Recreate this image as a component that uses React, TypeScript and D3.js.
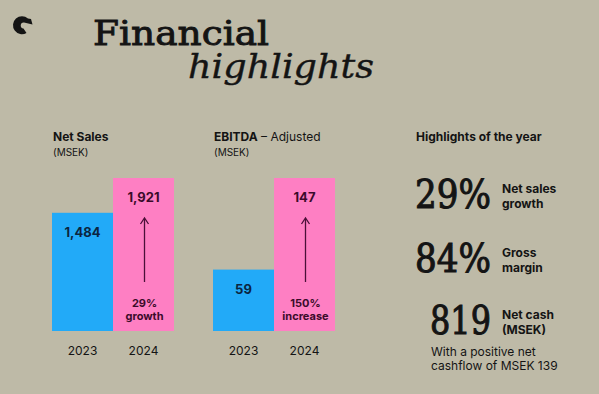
import React, { useEffect, useRef } from "react";
import * as d3 from "d3";

// data
const years = ["2023", "2024"];
const netSales = [1484, 1921];
const ebitda = [59, 147];
const netSalesLabels = ["1,484", "1,921"];
const ebitdaLabels = ["59", "147"];
const netSalesNote = ["29%", "growth"];
const ebitdaNote = ["150%", "increase"];
const highlights = [
  { value: "29%", lines: ["Net sales", "growth"] },
  { value: "84%", lines: ["Gross", "margin"] },
  { value: "819", lines: ["Net cash", "(MSEK)"] },
];
const footnote = ["With a positive net", "cashflow of MSEK 139"];

const BG = "#bebaa7";
const BLUE = "#22aaf8";
const PINK = "#fe7fc3";
const INK = "#141414";
const SANS = "Inter, 'Noto Sans', sans-serif";
const SERIF = "'DejaVu Serif', serif";

const App = () => {
  const svgRef = useRef<SVGSVGElement>(null);

  useEffect(() => {
    const svg = d3.select(svgRef.current);
    svg.selectAll("*").remove();

    const width = 599;
    const height = 394;
    svg.append("rect").attr("width", width).attr("height", height).attr("fill", BG);

    // logo
    svg
      .append("path")
      .attr(
        "d",
        "M28,18.5 A9,9 0 1 0 26.5,33 L23.5,28.5 A3,3 0 1 1 24,22.5 L32.5,24.5 L31,19 Z"
      )
      .attr("fill", INK);

    // title
    svg
      .append("text")
      .attr("x", 93)
      .attr("y", 45)
      .attr("font-family", SERIF)
      .attr("font-size", 34)
      .attr("textLength", 176)
      .attr("lengthAdjust", "spacingAndGlyphs")
      .attr("fill", INK)
      .attr("stroke", INK)
      .attr("stroke-width", 0.9)
      .text("Financial");
    svg
      .append("text")
      .attr("x", 188)
      .attr("y", 78)
      .attr("font-family", SERIF)
      .attr("font-style", "italic")
      .attr("font-size", 34)
      .attr("textLength", 186)
      .attr("lengthAdjust", "spacingAndGlyphs")
      .attr("fill", INK)
      .attr("stroke", INK)
      .attr("stroke-width", 0.4)
      .text("highlights");

    const baseY = 331;
    const topY = 178;

    const drawPanel = (
      x0: number,
      values: number[],
      labels: string[],
      note: string[],
      titleBold: string,
      titleRest: string
    ) => {
      const g = svg.append("g");
      const x = d3.scaleBand().domain(years).range([x0, x0 + 122]).padding(0);
      const y = d3.scaleLinear().domain([0, d3.max(values)!]).range([baseY, topY]);

      const t = g
        .append("text")
        .attr("x", x0 + 1)
        .attr("y", 141)
        .attr("font-family", SANS)
        .attr("font-size", 12)
        .attr("fill", INK);
      t.append("tspan").attr("font-weight", "bold").text(titleBold);
      if (titleRest) t.append("tspan").text(titleRest);
      g.append("text")
        .attr("x", x0 + 1)
        .attr("y", 156)
        .attr("font-family", SANS)
        .attr("font-size", 10)
        .attr("fill", INK)
        .text("(MSEK)");

      g.selectAll("rect.bar")
        .data(values)
        .join("rect")
        .attr("class", "bar")
        .attr("x", (d, i) => x(years[i])!)
        .attr("y", (d) => y(d))
        .attr("width", x.bandwidth())
        .attr("height", (d) => baseY - y(d))
        .attr("fill", (d, i) => (i === 0 ? BLUE : PINK));

      g.selectAll("text.val")
        .data(values)
        .join("text")
        .attr("class", "val")
        .attr("x", (d, i) => x(years[i])! + x.bandwidth() / 2)
        .attr("y", (d) => y(d) + 24)
        .attr("text-anchor", "middle")
        .attr("font-family", SANS)
        .attr("font-weight", "bold")
        .attr("font-size", 13)
        .attr("fill", (d, i) => (i === 0 ? "#0b2540" : "#3a0b2a"))
        .text((d, i) => labels[i]);

      g.selectAll("text.year")
        .data(years)
        .join("text")
        .attr("class", "year")
        .attr("x", (d) => x(d)! + x.bandwidth() / 2)
        .attr("y", 355)
        .attr("text-anchor", "middle")
        .attr("font-family", SANS)
        .attr("font-size", 12)
        .attr("fill", INK)
        .text((d) => d);

      const cx = x(years[1])! + x.bandwidth() / 2 + 1;
      g.append("line")
        .attr("x1", cx)
        .attr("x2", cx)
        .attr("y1", 282)
        .attr("y2", 219)
        .attr("stroke", "#4a1038")
        .attr("stroke-width", 1.3);
      g.append("path")
        .attr("d", `M${cx - 4},${224} L${cx},${218} L${cx + 4},${224}`)
        .attr("fill", "none")
        .attr("stroke", "#4a1038")
        .attr("stroke-width", 1.3);

      g.selectAll("text.note")
        .data(note)
        .join("text")
        .attr("class", "note")
        .attr("x", cx)
        .attr("y", (d, i) => 307 + i * 13)
        .attr("text-anchor", "middle")
        .attr("font-family", SANS)
        .attr("font-weight", "bold")
        .attr("font-size", 11)
        .attr("fill", "#3a0b2a")
        .text((d) => d);
    };

    drawPanel(52, netSales, netSalesLabels, netSalesNote, "Net Sales", "");
    drawPanel(213, ebitda, ebitdaLabels, ebitdaNote, "EBITDA", " – Adjusted");

    // highlights column
    svg
      .append("text")
      .attr("x", 416)
      .attr("y", 141)
      .attr("font-family", SANS)
      .attr("font-weight", "bold")
      .attr("font-size", 12)
      .attr("fill", INK)
      .text("Highlights of the year");

    const rows = [
      { x: 415, y: 208, w: 76 },
      { x: 415, y: 272, w: 76 },
      { x: 430, y: 334, w: 61 },
    ];
    highlights.forEach((h, i) => {
      const r = rows[i];
      svg
        .append("text")
        .attr("x", r.x)
        .attr("y", r.y)
        .attr("font-family", SERIF)
        .attr("font-size", 40)
        .attr("textLength", r.w)
        .attr("lengthAdjust", "spacingAndGlyphs")
        .attr("fill", INK)
        .attr("stroke", INK)
        .attr("stroke-width", 1.1)
        .text(h.value);
      h.lines.forEach((l, j) => {
        svg
          .append("text")
          .attr("x", 502)
          .attr("y", r.y - 15 + j * 15)
          .attr("font-family", SANS)
          .attr("font-weight", "bold")
          .attr("font-size", 12)
          .attr("fill", INK)
          .text(l);
      });
    });

    footnote.forEach((l, j) => {
      svg
        .append("text")
        .attr("x", 431)
        .attr("y", 356 + j * 14)
        .attr("font-family", SANS)
        .attr("font-size", 12)
        .attr("fill", INK)
        .text(l);
    });
  }, []);

  return (
    <svg
      ref={svgRef}
      width={599}
      height={394}
      style={{ position: "absolute", left: 0, top: 0 }}
    ></svg>
  );
};

export default App;
